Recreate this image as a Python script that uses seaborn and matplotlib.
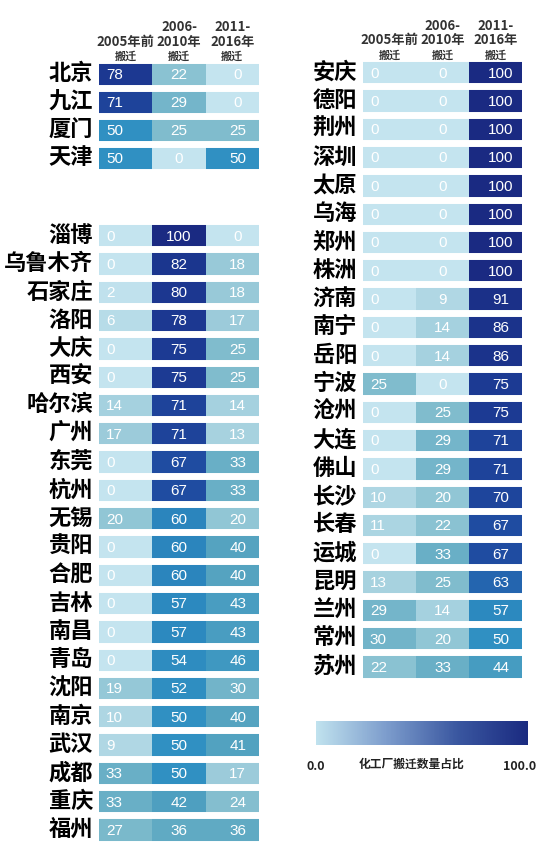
import numpy as np
import pandas as pd
import matplotlib
matplotlib.use('Agg')
import matplotlib.pyplot as plt
import seaborn as sns
from matplotlib.colors import LinearSegmentedColormap, Normalize
from matplotlib.cm import ScalarMappable

sns.set_theme(style='white')
plt.rcParams['font.family'] = ['Noto Sans CJK SC', 'DejaVu Sans']

periods = ['2005年前', '2006-2010年', '2011-2016年']
header_lines = [['2005年前'], ['2006-', '2010年'], ['2011-', '2016年']]

# group 1: moved mostly before 2005
cities_a = ['北京', '九江', '厦门', '天津']
pre05_a = [78, 71, 50, 50]
mid_a = [22, 29, 25, 0]
late_a = [0, 0, 25, 50]

# group 2: moved mostly 2006-2010
cities_b = ['淄博', '乌鲁木齐', '石家庄', '洛阳', '大庆', '西安', '哈尔滨', '广州',
            '东莞', '杭州', '无锡', '贵阳', '合肥', '吉林', '南昌', '青岛',
            '沈阳', '南京', '武汉', '成都', '重庆', '福州']
pre05_b = [0, 0, 2, 6, 0, 0, 14, 17, 0, 0, 20, 0, 0, 0, 0, 0, 19, 10, 9, 33, 33, 27]
mid_b = [100, 82, 80, 78, 75, 75, 71, 71, 67, 67, 60, 60, 60, 57, 57, 54, 52, 50, 50, 50, 42, 36]
late_b = [0, 18, 18, 17, 25, 25, 14, 13, 33, 33, 20, 40, 40, 43, 43, 46, 30, 40, 41, 17, 24, 36]

# group 3: moved mostly 2011-2016
cities_c = ['安庆', '德阳', '荆州', '深圳', '太原', '乌海', '郑州', '株洲', '济南', '南宁',
            '岳阳', '宁波', '沧州', '大连', '佛山', '长沙', '长春', '运城', '昆明', '兰州',
            '常州', '苏州']
pre05_c = [0, 0, 0, 0, 0, 0, 0, 0, 0, 0, 0, 25, 0, 0, 0, 10, 11, 0, 13, 29, 30, 22]
mid_c = [0, 0, 0, 0, 0, 0, 0, 0, 9, 14, 14, 0, 25, 29, 29, 20, 22, 33, 25, 14, 20, 33]
late_c = [100, 100, 100, 100, 100, 100, 100, 100, 91, 86, 86, 75, 75, 71, 71, 70, 67, 67, 63, 57, 50, 44]

cell_cmap = LinearSegmentedColormap.from_list('move', [
    (0.00, '#c4e4ef'), (0.15, '#a2cfdd'), (0.25, '#80bccd'), (0.40, '#55a3c0'),
    (0.50, '#3090c2'), (0.61, '#2a84bd'), (0.645, '#2052a6'), (0.75, '#1c3a93'),
    (1.00, '#1a2a82')])
bar_cmap = LinearSegmentedColormap.from_list('bar', ['#c0e2ee', '#7c9ccc', '#3a57a0', '#1a2a80'])

W, H = 554, 843
fig = plt.figure(figsize=(W / 100, H / 100), dpi=100)
num_font = ['Liberation Sans Narrow', 'Liberation Sans', 'DejaVu Sans']


def px_axes(x0, x1, y0, y1):
    return fig.add_axes([x0 / W, 1 - y1 / H, (x1 - x0) / W, (y1 - y0) / H])


def block(ax, cities, a, b, c, header=False):
    df = pd.DataFrame({periods[0]: a, periods[1]: b, periods[2]: c}, index=cities)
    sns.heatmap(df, ax=ax, cmap=cell_cmap, vmin=0, vmax=100, cbar=False,
                xticklabels=False, yticklabels=False, linewidths=0)
    ax.set_axis_off()
    n = len(cities)
    ax.hlines(np.arange(n + 1), -0.03, 3.03, colors='white', linewidth=5, clip_on=False)
    for i, city in enumerate(cities):
        ax.text(-0.11, i + 0.5, city, ha='right', va='center', fontsize=16,
                fontweight='bold', color='black')
        for j in range(3):
            v = df.iloc[i, j]
            if j == 0:
                ax.text(0.13, i + 0.55, str(v), ha='left', va='center',
                        fontsize=11, color='white', family=num_font)
            else:
                ax.text(j + (0.5 if j == 1 else 0.6), i + 0.55, str(v), ha='center',
                        va='center', fontsize=11, color='white', family=num_font)
    if header:
        for j, lines in enumerate(header_lines):
            for k, line in enumerate(reversed(lines)):
                ax.annotate(line, xy=(j + 0.5, 1), xycoords=('data', 'axes fraction'),
                            xytext=(0, 12.8 + 10.5 * k), textcoords='offset points',
                            ha='center', va='center', fontsize=9.5, fontweight='bold',
                            color='#333333')
            ax.annotate('搬迁', xy=(j + 0.5, 1), xycoords=('data', 'axes fraction'),
                        xytext=(0, 2.3), textcoords='offset points', ha='center', va='center',
                        fontsize=8, fontweight='bold', color='#333333')


ax1 = px_axes(99, 259, 59.5, 171.5)
block(ax1, cities_a, pre05_a, mid_a, late_a, header=True)
ax2 = px_axes(99, 259, 221, 843.6)
block(ax2, cities_b, pre05_b, mid_b, late_b)
ax3 = px_axes(363, 522, 58, 680.6)
block(ax3, cities_c, pre05_c, mid_c, late_c, header=True)

cax = px_axes(316, 528, 721, 745)
sm = ScalarMappable(norm=Normalize(0, 100), cmap=bar_cmap)
cb = fig.colorbar(sm, cax=cax, orientation='horizontal')
cb.outline.set_visible(False)
cb.set_ticks([])
cax.text(0, -0.9, '0.0', transform=cax.transAxes, ha='center', va='center',
         fontsize=9, fontweight='bold', color='#222222')
cax.text(0.96, -0.9, '100.0', transform=cax.transAxes, ha='center', va='center',
         fontsize=9, fontweight='bold', color='#222222')
cax.text(0.45, -0.8, '化工厂搬迁数量占比', transform=cax.transAxes, ha='center', va='center',
         fontsize=8.5, fontweight='bold', color='#222222')

fig.savefig('out.png', dpi=100)
